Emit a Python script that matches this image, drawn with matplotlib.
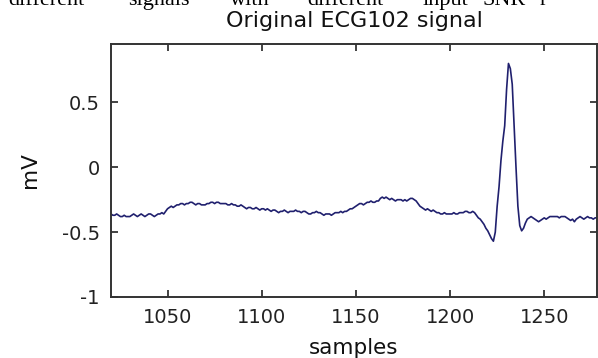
import numpy as np
import matplotlib
matplotlib.use("Agg")
import matplotlib.pyplot as plt

# ECG record 102, samples 1020..1278 (mV)
start_sample = 1020
ecg_mv = [
    -0.36, -0.37, -0.37, -0.36, -0.37, -0.38, -0.38, -0.37, -0.38, -0.38,
    -0.38, -0.37, -0.36, -0.37, -0.38, -0.37, -0.36, -0.37, -0.38, -0.37,
    -0.36, -0.36, -0.37, -0.38, -0.37, -0.36, -0.36, -0.35, -0.36, -0.34,
    -0.32, -0.31, -0.30, -0.31, -0.30, -0.29, -0.29, -0.28, -0.28, -0.29,
    -0.28, -0.28, -0.27, -0.27, -0.28, -0.29, -0.28, -0.28, -0.29, -0.29,
    -0.29, -0.28, -0.28, -0.27, -0.27, -0.28, -0.27, -0.27, -0.28, -0.28,
    -0.28, -0.28, -0.29, -0.29, -0.28, -0.29, -0.29, -0.30, -0.30, -0.29,
    -0.30, -0.31, -0.32, -0.31, -0.31, -0.32, -0.32, -0.31, -0.32, -0.33,
    -0.32, -0.32, -0.33, -0.32, -0.33, -0.34, -0.33, -0.33, -0.34, -0.35,
    -0.34, -0.34, -0.33, -0.34, -0.35, -0.34, -0.34, -0.34, -0.33, -0.34,
    -0.34, -0.35, -0.34, -0.34, -0.35, -0.36, -0.36, -0.35, -0.35, -0.34,
    -0.35, -0.35, -0.36, -0.37, -0.36, -0.36, -0.36, -0.37, -0.36, -0.35,
    -0.35, -0.35, -0.34, -0.35, -0.34, -0.34, -0.33, -0.32, -0.32, -0.31,
    -0.30, -0.29, -0.28, -0.28, -0.29, -0.28, -0.27, -0.27, -0.26, -0.27,
    -0.27, -0.26, -0.26, -0.24, -0.23, -0.24, -0.23, -0.24, -0.25, -0.24,
    -0.25, -0.26, -0.25, -0.25, -0.25, -0.26, -0.25, -0.26, -0.25, -0.24,
    -0.24, -0.25, -0.26, -0.28, -0.30, -0.31, -0.32, -0.33, -0.32, -0.33,
    -0.34, -0.33, -0.34, -0.35, -0.35, -0.36, -0.36, -0.35, -0.36, -0.36,
    -0.36, -0.36, -0.35, -0.36, -0.36, -0.35, -0.35, -0.35, -0.34, -0.34,
    -0.35, -0.35, -0.34, -0.35, -0.37, -0.39, -0.40, -0.42, -0.44, -0.47,
    -0.49, -0.52, -0.55, -0.57, -0.50, -0.30, -0.15, 0.05, 0.20, 0.32,
    0.60, 0.80, 0.76, 0.64, 0.32, 0.00, -0.30, -0.45, -0.49, -0.47,
    -0.43, -0.40, -0.39, -0.38, -0.39, -0.40, -0.41, -0.42, -0.41, -0.40,
    -0.39, -0.40, -0.39, -0.38, -0.38, -0.38, -0.38, -0.38, -0.39, -0.38,
    -0.38, -0.38, -0.39, -0.40, -0.41, -0.40, -0.42, -0.40, -0.39, -0.38,
    -0.39, -0.40, -0.39, -0.38, -0.39, -0.39, -0.40, -0.39, -0.39,
]
x_ticks = [1050, 1100, 1150, 1200, 1250]
y_ticks = [-1, -0.5, 0, 0.5]
y_tick_labels = ["-1", "-0.5", "0", "0.5"]

samples = np.arange(start_sample, start_sample + len(ecg_mv))

plt.rcParams["font.family"] = ["DejaVu Sans"]

fig = plt.figure(figsize=(5.98, 3.58), dpi=100)
fig.patch.set_facecolor("white")

# running text of the page above the figure
page_words = [("different", 8), ("signals", 128), ("with", 230),
              ("different", 307), ("input", 423), ("SNR", 483), ("r", 540)]
for word, px in page_words:
    fig.text(px / 598, 1 - 5 / 358, word, family="Liberation Serif",
             fontsize=16, color="black", ha="left", va="baseline")

ax = fig.add_axes([111 / 598, 1 - 297 / 358, 486 / 598, 253 / 358])
ax.plot(samples, ecg_mv, color="#20206e", linewidth=1.2)

ax.set_xlim(1020, 1278)
ax.set_ylim(-1, 0.95)
ax.set_xticks(x_ticks)
ax.set_yticks(y_ticks)
ax.set_yticklabels(y_tick_labels)

ax.tick_params(direction="in", length=5, width=1.2, top=True, right=True,
               labelsize=14, colors="#222222", pad=8)
for s in ax.spines.values():
    s.set_linewidth(1.4)
    s.set_color("#333333")

ax.set_title("Original ECG102 signal", fontsize=16, color="#111111", pad=12)
ax.set_xlabel("samples", fontsize=15.5, color="#111111", labelpad=8)
ax.set_ylabel("mV", fontsize=15.5, color="#111111", labelpad=16)

fig.savefig("out.png", dpi=100, facecolor="white")
